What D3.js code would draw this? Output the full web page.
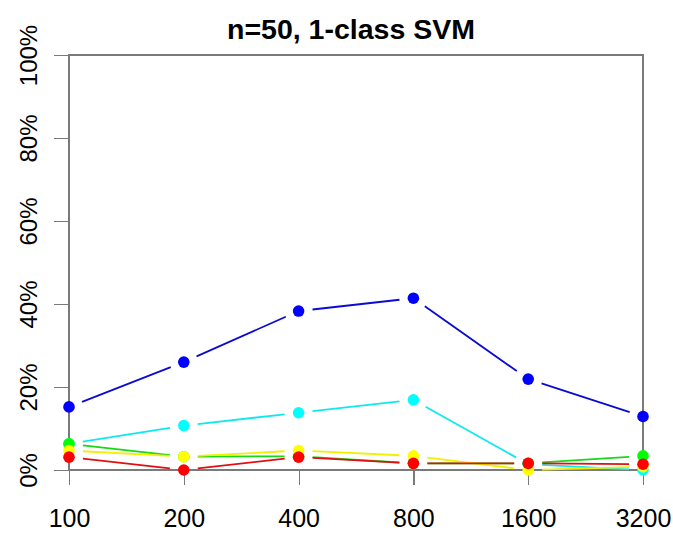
<!DOCTYPE html>
<html>
<head>
<meta charset="utf-8">
<script src="https://cdn.jsdelivr.net/npm/d3@7"></script>
<style>
  html, body { margin: 0; padding: 0; background: #fff; }
  svg { display: block; font-family: Arial, "Liberation Sans", sans-serif; }
</style>
</head>
<body>
<svg id="chart" width="673" height="534"></svg>
<script>
const categories = ["100", "200", "400", "800", "1600", "3200"];
const blueValues   = [15.2, 26.0, 38.3, 41.4, 21.9, 12.9];
const cyanValues   = [6.3, 10.7, 13.8, 16.9, 1.4, 0.0];
const greenValues  = [6.3, 3.2, 3.3, 1.6, 1.6, 3.4];
const yellowValues = [4.7, 3.2, 4.7, 3.4, 0.0, 0.8];
const redValues    = [3.1, 0.0, 3.1, 1.6, 1.6, 1.4];
const yTicks = [0, 20, 40, 60, 80, 100];
const yTickLabels = ["0%", "20%", "40%", "60%", "80%", "100%"];
const chartTitle = "n=50, 1-class SVM";

const series = [
  { name: "blue",   values: blueValues,   point: "#0000ff", line: "#0a0ad0" },
  { name: "cyan",   values: cyanValues,   point: "#00ffff", line: "#10e8f0" },
  { name: "green",  values: greenValues,  point: "#00ff00", line: "#18d818" },
  { name: "yellow", values: yellowValues, point: "#ffff00", line: "#f0f000" },
  { name: "red",    values: redValues,    point: "#ff0000", line: "#e01010" }
];

const svg = d3.select("#chart");
const mLeft = 69, mRight = 643, mTop = 55, mBottom = 470;

const x = d3.scalePoint().domain(categories).range([mLeft, mRight]).padding(0);
const y = d3.scaleLinear().domain([0, 100]).range([mBottom, mTop]);

const axisColor = "#7a7a7a";

// Title
svg.append("text")
  .attr("x", 351).attr("y", 39)
  .attr("text-anchor", "middle")
  .attr("font-size", "28.5px")
  .attr("font-weight", "bold")
  .attr("fill", "#000")
  .text(chartTitle);

// Box
svg.append("rect")
  .attr("x", mLeft).attr("y", mTop)
  .attr("width", mRight - mLeft).attr("height", mBottom - mTop)
  .attr("fill", "none").attr("stroke", axisColor).attr("stroke-width", 1.2)
  .attr("shape-rendering", "crispEdges");

// Y axis
const yAxis = d3.axisLeft(y).tickValues(yTicks).tickSize(15).tickFormat((d, i) => yTickLabels[i]);
const gy = svg.append("g").attr("transform", `translate(${mLeft},0)`).call(yAxis);
gy.select(".domain").remove();
gy.selectAll(".tick line").attr("stroke", axisColor).attr("stroke-width", 1.2).attr("shape-rendering", "crispEdges");
gy.selectAll(".tick text")
  .attr("font-size", "24px")
  .attr("font-family", "Arial, 'Liberation Sans', sans-serif")
  .attr("fill", "#000")
  .attr("text-anchor", "middle")
  .attr("dy", null)
  .attr("x", null)
  .attr("transform", "translate(-32,0) rotate(-90)");

// X axis
const xAxis = d3.axisBottom(x).tickSize(15);
const gx = svg.append("g").attr("transform", `translate(0,${mBottom})`).call(xAxis);
gx.select(".domain").remove();
gx.selectAll(".tick line").attr("stroke", axisColor).attr("stroke-width", 1.2).attr("shape-rendering", "crispEdges");
gx.selectAll(".tick text")
  .attr("font-size", "25px")
  .attr("font-family", "Arial, 'Liberation Sans', sans-serif")
  .attr("fill", "#000")
  .attr("dy", null)
  .attr("y", 57);

// Series: points and gapped lines (R type="b")
const gap = 14;
series.forEach(s => {
  const pts = s.values.map((v, i) => [x(categories[i]), y(v)]);
  const g = svg.append("g");
  for (let i = 0; i < pts.length - 1; i++) {
    const [x0, y0] = pts[i], [x1, y1] = pts[i + 1];
    const dx = x1 - x0, dy = y1 - y0, len = Math.hypot(dx, dy);
    if (len <= 2 * gap) continue;
    const ux = dx / len, uy = dy / len;
    g.append("line")
      .attr("x1", x0 + ux * gap).attr("y1", y0 + uy * gap)
      .attr("x2", x1 - ux * gap).attr("y2", y1 - uy * gap)
      .attr("stroke", s.line).attr("stroke-width", 1.8);
  }
  g.selectAll("circle").data(pts).enter().append("circle")
    .attr("cx", d => d[0]).attr("cy", d => d[1]).attr("r", 5.8)
    .attr("fill", s.point);
});
</script>
</body>
</html>
